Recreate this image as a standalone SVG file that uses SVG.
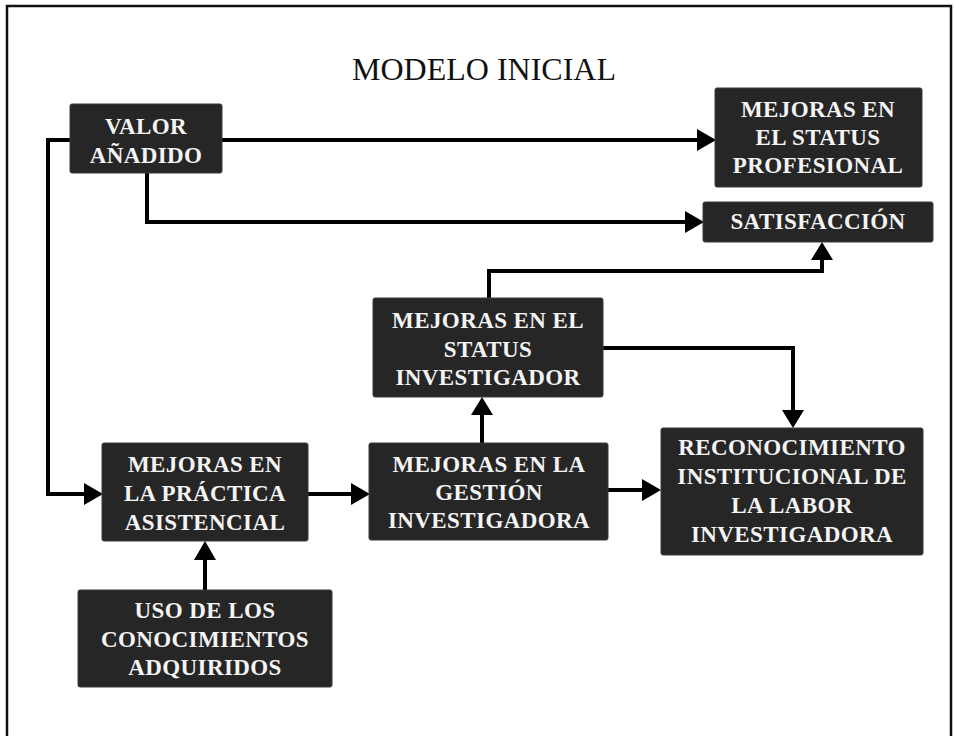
<svg xmlns="http://www.w3.org/2000/svg" width="954" height="736" viewBox="0 0 954 736">
<style>
.box{fill:#262626;stroke:#3a3a3a;stroke-width:1}
.lbl{font-family:"Liberation Serif","Times New Roman",serif;font-weight:bold;font-size:23px;letter-spacing:0.4px;fill:#f4f4f4;text-anchor:middle}
.title{font-family:"Liberation Serif","Times New Roman",serif;font-size:32px;fill:#111;text-anchor:middle}
.ln{fill:none;stroke:#000;stroke-width:4;stroke-linejoin:miter}
.ah{fill:#000}
</style>
<rect width="954" height="736" fill="#fff"/>
<path d="M7,740 V6 H951 V740" fill="none" stroke="#111" stroke-width="2.5"/>
<text class="title" x="484" y="80">MODELO INICIAL</text>

<g id="connectors">
<path class="ln" d="M222,140 H699"/>
<polygon class="ah" points="697,129 716,140 697,151"/>
<path class="ln" d="M147,173 V222 H687"/>
<polygon class="ah" points="685,211 704,222 685,233"/>
<path class="ln" d="M70,140 H48 V494 H86"/>
<polygon class="ah" points="84,483 103,494 84,505"/>
<path class="ln" d="M205,590 V558"/>
<polygon class="ah" points="194,560 205,541 216,560"/>
<path class="ln" d="M308,494 H353"/>
<polygon class="ah" points="351,483 370,494 351,505"/>
<path class="ln" d="M482,443 V413"/>
<polygon class="ah" points="471,415 482,397 493,415"/>
<path class="ln" d="M489,298 V271 H822 V258"/>
<polygon class="ah" points="811,260 822,242 833,260"/>
<path class="ln" d="M603,348 H793 V412"/>
<polygon class="ah" points="782,410 793,428 804,410"/>
<path class="ln" d="M608,490 H644"/>
<polygon class="ah" points="642,479 661,490 642,501"/>
</g>

<g id="valor">
<rect class="box" x="70" y="104" width="152" height="69" rx="2"/>
<text class="lbl" x="146" y="134">VALOR</text>
<text class="lbl" x="146" y="163">AÑADIDO</text>
</g>

<g id="status-profesional">
<rect class="box" x="715" y="88" width="207" height="99" rx="2"/>
<text class="lbl" x="818" y="117">MEJORAS EN</text>
<text class="lbl" x="818" y="145">EL STATUS</text>
<text class="lbl" x="818" y="173">PROFESIONAL</text>
</g>

<g id="satisfaccion">
<rect class="box" x="703" y="202" width="230" height="40" rx="2"/>
<text class="lbl" x="818" y="229">SATISFACCIÓN</text>
</g>

<g id="status-investigador">
<rect class="box" x="373" y="298" width="230" height="99" rx="2"/>
<text class="lbl" x="488" y="328">MEJORAS EN EL</text>
<text class="lbl" x="488" y="357">STATUS</text>
<text class="lbl" x="488" y="385">INVESTIGADOR</text>
</g>

<g id="practica">
<rect class="box" x="102" y="443" width="206" height="98" rx="2"/>
<text class="lbl" x="205" y="472">MEJORAS EN</text>
<text class="lbl" x="205" y="501">LA PRÁCTICA</text>
<text class="lbl" x="205" y="530">ASISTENCIAL</text>
</g>

<g id="gestion">
<rect class="box" x="369" y="443" width="239" height="97" rx="2"/>
<text class="lbl" x="489" y="472">MEJORAS EN LA</text>
<text class="lbl" x="489" y="500">GESTIÓN</text>
<text class="lbl" x="489" y="528">INVESTIGADORA</text>
</g>

<g id="reconocimiento">
<rect class="box" x="661" y="428" width="262" height="127" rx="2"/>
<text class="lbl" x="792" y="455">RECONOCIMIENTO</text>
<text class="lbl" x="792" y="484">INSTITUCIONAL DE</text>
<text class="lbl" x="792" y="513">LA LABOR</text>
<text class="lbl" x="792" y="542">INVESTIGADORA</text>
</g>

<g id="uso">
<rect class="box" x="78" y="590" width="254" height="97" rx="2"/>
<text class="lbl" x="205" y="618">USO DE LOS</text>
<text class="lbl" x="205" y="647">CONOCIMIENTOS</text>
<text class="lbl" x="205" y="675">ADQUIRIDOS</text>
</g>
</svg>
